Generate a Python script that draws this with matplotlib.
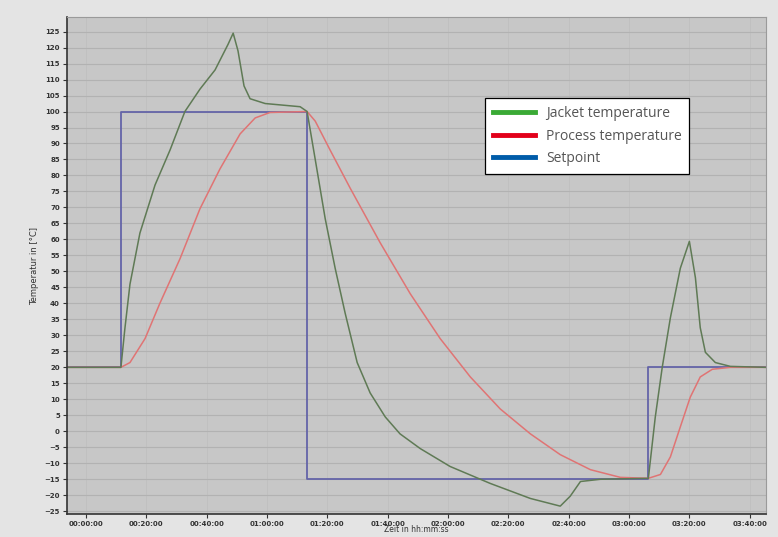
import matplotlib.pyplot as plt
import numpy as np
from matplotlib.lines import Line2D

# time in minutes, temperature in degC
setpoint_t = [-6.3, 11.6, 11.6, 73.3, 73.3, 186.4, 186.4, 225.5]
setpoint_v = [20, 20, 100, 100, -15, -15, 20, 20]

jacket_t = [-6.3, 11.6, 12.9, 14.6, 17.9, 22.9, 27.9, 32.8, 37.8, 42.8, 47.1, 48.8,
            50.4, 52.4, 54.4, 59.4, 71.0, 73.3, 76.0, 79.3, 82.6, 85.9, 89.9, 94.2,
            99.2, 104.1, 110.8, 120.7, 134.0, 147.3, 157.2, 160.5, 163.9, 170.5,
            186.4, 188.7, 191.0, 193.7, 197.0, 200.0, 202.0, 203.6, 205.3, 208.6,
            213.6, 225.5]
jacket_v = [20, 20, 32, 46, 62, 77, 88, 100, 107, 113, 121, 124.5,
            119, 108, 104, 102.5, 101.5, 100, 85, 66.5, 51, 37, 21.5, 12,
            4.5, -0.8, -5.4, -11, -16.3, -21, -23.4, -20.3, -15.7, -15,
            -14.7, 4.5, 20, 35.5, 51, 59.4, 48, 32.4, 24.7, 21.5,
            20.3, 20]

process_t = [-6.3, 11.6, 14.6, 19.6, 24.5, 31.2, 37.8, 44.4, 51.1, 56.1, 61.0, 73.3,
             76.0, 80.9, 87.6, 97.5, 107.5, 117.4, 127.4, 137.3, 147.3, 157.2,
             167.2, 177.1, 186.4, 190.4, 193.7, 197.0, 200.3, 203.6, 207.6, 213.6,
             225.5]
process_v = [20, 20, 21.5, 29, 40, 54, 69.6, 82, 93, 98, 99.7, 100,
             97, 88, 76, 59, 43, 29, 17, 7, -0.8, -7.3,
             -12, -14.4, -14.7, -13.5, -8, 1.4, 10.7, 17, 19.4, 20,
             20]

tick_pos = np.arange(0, 221, 20)
tick_labels = ["00:00:00", "00:20:00", "00:40:00", "01:00:00", "01:20:00", "01:40:00",
               "02:00:00", "02:20:00", "02:40:00", "03:00:00", "03:20:00", "03:40:00"]

fig = plt.figure(figsize=(7.78, 5.37), dpi=100, facecolor="#e4e4e4")
ax = fig.add_axes([0.086, 0.042, 0.899, 0.926])
ax.set_facecolor("#c7c7c7")

ax.plot(setpoint_t, setpoint_v, color="#6464a8", linewidth=1.3)
ax.plot(process_t, process_v, color="#e07474", linewidth=1.1)
ax.plot(jacket_t, jacket_v, color="#5f7a55", linewidth=1.1)

ax.set_xlim(-6.3, 225.5)
ax.set_ylim(-26, 129.5)
ax.set_yticks(np.arange(-25, 126, 5))
ax.set_xticks(tick_pos)
ax.set_xticklabels(tick_labels)
ax.tick_params(axis="both", labelsize=5, length=3, colors="#333333", pad=2)
ax.tick_params(axis="x", pad=1.5)
for lbl in ax.get_xticklabels() + ax.get_yticklabels():
    lbl.set_fontweight("bold")
ax.grid(axis="y", color="#b2b2b2", linewidth=0.8)
ax.grid(axis="x", color="#bdbdbd", linewidth=0.5)
ax.set_axisbelow(True)
for side in ["top", "right"]:
    ax.spines[side].set_color("#9a9a9a")
for side in ["left", "bottom"]:
    ax.spines[side].set_color("#333333")
    ax.spines[side].set_linewidth(1.2)

ax.set_ylabel("Temperatur in [°C]", fontsize=6, color="#333333", labelpad=4)
ax.set_xlabel("Zeit in hh:mm:ss", fontsize=5.5, color="#333333")
ax.xaxis.set_label_coords(0.5, -0.022)

handles = [Line2D([], [], color="#3aaa35", linewidth=3.5),
           Line2D([], [], color="#e2001a", linewidth=3.5),
           Line2D([], [], color="#005ca9", linewidth=3.5)]
leg = fig.legend(handles, ["Jacket temperature", "Process temperature", "Setpoint"],
                 loc="upper left", bbox_to_anchor=(0.615, 0.83),
                 prop={"family": "Open Sans", "size": 10},
                 frameon=True, fancybox=False, framealpha=1,
                 edgecolor="black", handlelength=3.0, handletextpad=0.8,
                 labelspacing=0.55, borderpad=0.55, labelcolor="#555555")
leg.get_frame().set_linewidth(0.9)

fig.savefig("out.png", dpi=100, facecolor=fig.get_facecolor())
